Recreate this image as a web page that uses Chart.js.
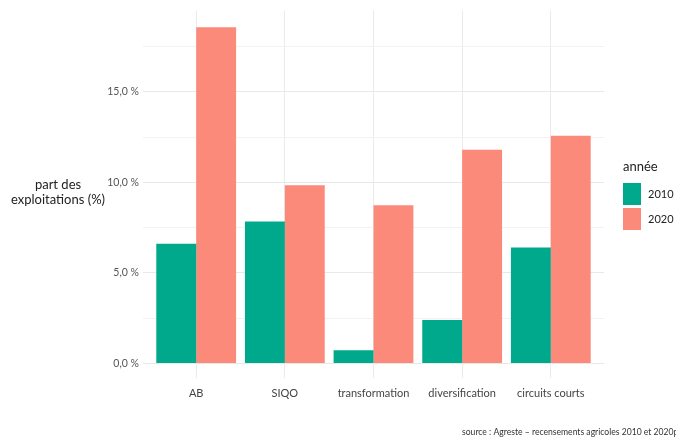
<!DOCTYPE html>
<html>
<head>
  <title>Part des exploitations</title>
  <script src="https://cdn.jsdelivr.net/npm/chart.js"></script>
  <style>
    body{
        margin:0px 0px;
        padding:0px 0px;
        background-color:#ffffff;
    }
    #wrap{
        position:relative;
        width:676px;
        height:437px;
    }
  </style>
</head>
<body>
<div id="wrap">
  <canvas id="chart" width="676" height="437"></canvas>
</div>
<script>
    // data
    var categories = ['AB', 'SIQO', 'transformation', 'diversification', 'circuits courts'];
    var years = ['2010', '2020'];
    var values2010 = [6.61, 7.84, 0.73, 2.40, 6.41];
    var values2020 = [18.57, 9.84, 8.74, 11.80, 12.58];
    var yTicks = [0, 2.5, 5, 7.5, 10, 12.5, 15, 17.5];
    var yTitle = ['part des', 'exploitations (%)'];
    var sourceText = 'source : Agreste \u2013 recensements agricoles 2010 et 2020p';

    var colors = ['#00a98b', '#fb8a7b'];
    var fontFam = 'Lato, "Open Sans", sans-serif';

    function toPoints(arr){
      return arr.map(function(v, i){ return {x: i, y: v}; });
    }

    function fmt(v){
      return v.toFixed(1).replace('.', ',') + ' %';
    }

    // y title, legend and source drawn on the canvas
    var extras = {
      id: 'extras',
      afterDraw: function(chart){
        var ctx = chart.ctx;
        ctx.save();
        ctx.fillStyle = '#222';
        ctx.textAlign = 'center';
        ctx.textBaseline = 'middle';
        ctx.font = '13px ' + fontFam;
        ctx.fillText(yTitle[0], 58, 185);
        ctx.fillText(yTitle[1], 58, 200);

        // legend
        ctx.textAlign = 'left';
        ctx.font = '13px ' + fontFam;
        ctx.fillText('ann\u00e9e', 623, 167);
        ctx.font = '11px ' + fontFam;
        for (var i = 0; i < years.length; i++) {
          var top = 183 + i * 25;
          ctx.fillStyle = colors[i];
          ctx.fillRect(623, top, 18, 22);
          ctx.fillStyle = '#222';
          ctx.fillText(years[i], 648, top + 11);
        }

        ctx.font = '8.6px ' + fontFam;
        ctx.fillStyle = '#333';
        ctx.fillText(sourceText, 462, 432);
        ctx.restore();
      }
    };

    var ctx = document.getElementById('chart').getContext('2d');
    var chart = new Chart(ctx, {
      type: 'bar',
      data: {
        datasets: [{
          label: years[0],
          data: toPoints(values2010),
          backgroundColor: colors[0],
          borderWidth: 0
        }, {
          label: years[1],
          data: toPoints(values2020),
          backgroundColor: colors[1],
          borderWidth: 0
        }]
      },
      options: {
        responsive: false,
        animation: false,
        layout: {
          padding: {top: 9, right: 72, left: 0, bottom: 0}
        },
        datasets: {
          bar: {
            categoryPercentage: 0.9,
            barPercentage: 1.0
          }
        },
        plugins: {
          legend: {display: false},
          tooltip: {enabled: false}
        },
        scales: {
          x: {
            type: 'linear',
            min: -0.6,
            max: 4.6,
            offset: false,
            afterBuildTicks: function(scale){
              scale.ticks = categories.map(function(c, i){ return {value: i}; });
            },
            afterFit: function(scale){
              scale.height = 59;
            },
            border: {display: false},
            grid: {
              offset: false,
              drawTicks: false,
              color: '#ebebeb',
              lineWidth: 1
            },
            ticks: {
              padding: 9,
              color: '#444',
              font: {family: fontFam, size: 11},
              maxRotation: 0,
              callback: function(value){ return categories[value]; }
            }
          },
          y: {
            min: -0.8,
            max: 19.5,
            afterBuildTicks: function(scale){
              scale.ticks = yTicks.map(function(v){ return {value: v}; });
            },
            afterFit: function(scale){
              scale.width = 143;
            },
            border: {display: false},
            grid: {
              drawTicks: false,
              color: function(c){
                return (c.tick && c.tick.value % 5 === 0) ? '#e8e8e8' : '#f2f2f2';
              },
              lineWidth: 1
            },
            ticks: {
              padding: 4,
              color: '#555',
              font: {family: fontFam, size: 10.5},
              callback: function(value){
                return value % 5 === 0 ? fmt(value) : '';
              }
            }
          }
        }
      },
      plugins: [extras]
    });
</script>
</body>
</html>
